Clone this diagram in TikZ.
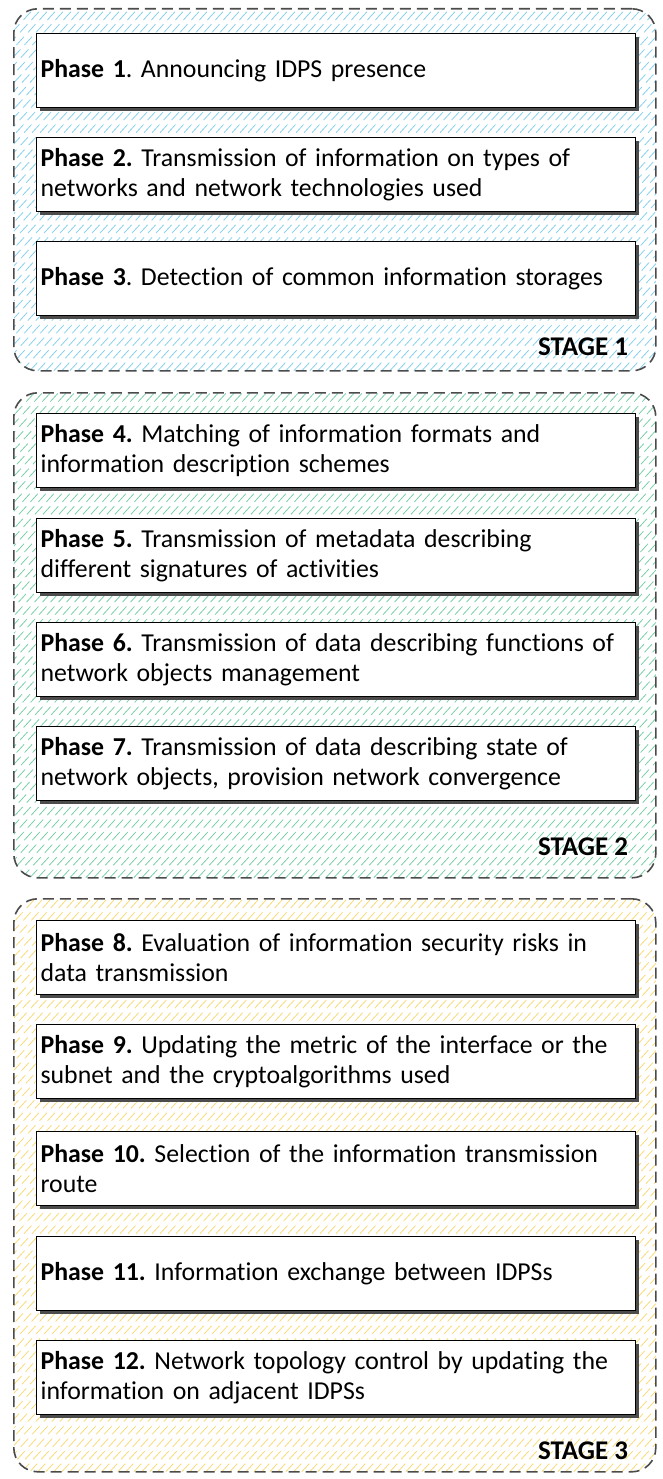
\documentclass[tikz,border=0pt]{standalone}
\usepackage{fontspec}
\setmainfont{Carlito}[Ligatures={NoCommon}]
\usetikzlibrary{shadows}
\definecolor{hatchblue}{RGB}{135,208,236}
\definecolor{hatchgreen}{RGB}{120,208,165}
\definecolor{hatchyellow}{RGB}{248,218,120}
\definecolor{dashgray}{RGB}{75,75,75}
\tikzset{
  stagebox/.style={draw=dashgray, line width=1.6pt, dash pattern=on 11pt off 6pt,
    rounded corners=24pt, anchor=north west, inner sep=0pt,
    path picture={
      \foreach \i in {-640,-632,...,680}
        \draw[#1, line width=0.8pt]
          ([xshift=\i pt]path picture bounding box.south west) -- ++(660pt,720pt);
    }},
  phasebox/.style={draw=black, line width=1.2pt, fill=white, anchor=north west,
    minimum width=599pt, minimum height=74pt, text width=591pt, inner xsep=4pt,
    align=left, font=\fontsize{25.8pt}{30pt}\selectfont,
    drop shadow={shadow xshift=3.5pt, shadow yshift=-3.5pt, fill=black!70, opacity=1}},
  stagelabel/.style={anchor=base east, font=\fontsize{27pt}{30pt}\selectfont\bfseries},
}
\begin{document}
\frenchspacing
\begin{tikzpicture}[x=1pt, y=-1pt]
\useasboundingbox (0,0) rectangle (662,1479);
% stage containers
\node[stagebox=hatchblue, minimum width=642pt, minimum height=362pt] (s1) at (13,8) {};
\node[stagebox=hatchgreen, minimum width=642pt, minimum height=485pt] (s2) at (13,392) {};
\node[stagebox=hatchyellow, minimum width=642pt, minimum height=573pt] (s3) at (13,898) {};
% stage 1 phases
\node[phasebox] (p1) at (36,33) {\textbf{Phase 1}. Announcing IDPS presence};
\node[phasebox] (p2) at (36,137) {\textbf{Phase 2.} Transmission of information on types of\\networks and network technologies used};
\node[phasebox] (p3) at (36,241) {\textbf{Phase 3}. Detection of common information storages};
% stage 2 phases
\node[phasebox] (p4) at (36,413) {\textbf{Phase 4.} Matching of information formats and\\information description schemes};
\node[phasebox] (p5) at (36,518) {\textbf{Phase 5.} Transmission of metadata describing\\different signatures of activities};
\node[phasebox] (p6) at (36,622) {\textbf{Phase 6.} Transmission of data describing functions of\\network objects management};
\node[phasebox] (p7) at (36,726) {\textbf{Phase 7.} Transmission of data describing state of\\network objects, provision network convergence};
% stage 3 phases
\node[phasebox] (p8) at (36,920) {\textbf{Phase 8.} Evaluation of information security risks in\\data transmission};
\node[phasebox] (p9) at (36,1024) {\textbf{Phase 9.} Updating the metric of the interface or the\\subnet and the cryptoalgorithms used};
\node[phasebox] (p10) at (36,1131) {\textbf{Phase 10.} Selection of the information transmission\\route};
\node[phasebox] (p11) at (36,1236) {\textbf{Phase 11.} Information exchange between IDPSs};
\node[phasebox] (p12) at (36,1340) {\textbf{Phase 12.} Network topology control by updating the\\information on adjacent IDPSs};
% stage labels
\node[stagelabel] (l1) at ([xshift=-25pt, yshift=16pt]s1.south east) {STAGE 1};
\node[stagelabel] (l2) at ([xshift=-25pt, yshift=23pt]s2.south east) {STAGE 2};
\node[stagelabel] (l3) at ([xshift=-25pt, yshift=13pt]s3.south east) {STAGE 3};
\end{tikzpicture}
\end{document}
